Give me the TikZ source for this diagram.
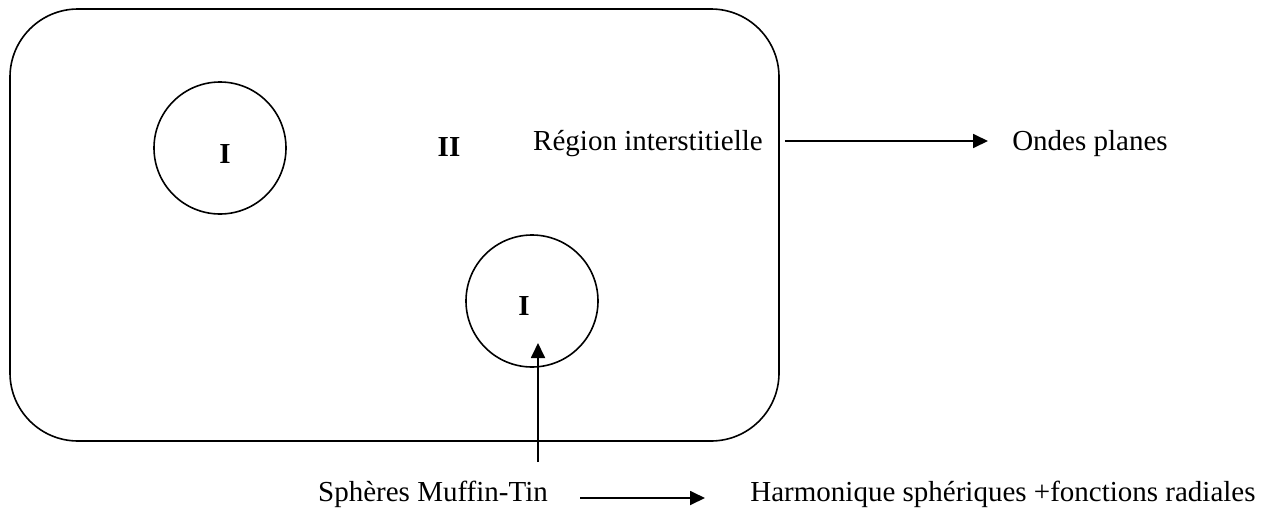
\documentclass[tikz,border=0pt]{standalone}
\usepackage{fontspec}
\setmainfont{Liberation Serif}
\usetikzlibrary{arrows.meta}
\begin{document}
\begin{tikzpicture}[x=1pt,y=-1pt,
  every node/.style={inner sep=0pt,font=\fontsize{29}{34}\selectfont},
  outline/.style={draw,line width=1.6pt},
  arr/.style={line width=1.8pt,-{Triangle[length=15pt,width=14pt]}},
  roman/.style={font=\fontsize{29}{34}\selectfont\bfseries}]
\useasboundingbox (0,0) rectangle (1275,509);
% unit cell with rounded corners
\draw[outline,rounded corners=68pt] (10,9) rectangle (779,441);
% muffin-tin spheres
\node[outline,circle,minimum size=132pt] (s1) at (220,148) {};
\node[outline,circle,minimum size=132pt] (s2) at (532,301) {};
\node[roman] (l1) at (225,154) {I};
\node[roman] (l2) at (524,306) {I};
\node[roman] (l3) at (449,147) {II};
% labels
\node (reg) at (648,144) {Région interstitielle};
\node (ond) at (1090,144) {Ondes planes};
\node (sph) at (433,494) {Sphères Muffin-Tin};
\node (har) at (1003,494) {Harmonique sphériques +fonctions radiales};
% connectors
\coordinate (up0) at (538,462);
\coordinate (up1) at (538,343);
\draw[arr] (reg.east) ++(22,-3) coordinate (r0) -- (988,141) coordinate (r1);
\draw[arr] (up0) -- (up1);
\draw[arr] (sph.east) ++(32,4) coordinate (h0) -- (705,498) coordinate (h1);
\end{tikzpicture}
\end{document}
